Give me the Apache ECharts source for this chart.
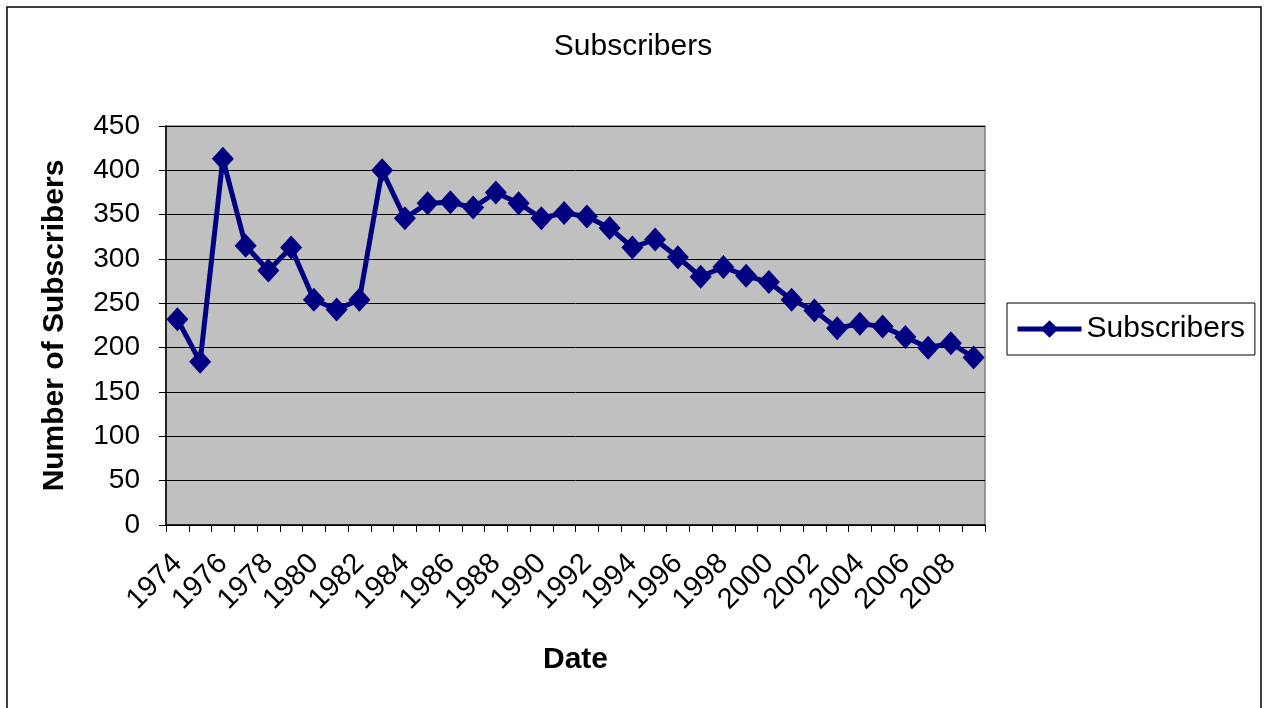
<!DOCTYPE html>
<html>
<head>
<meta charset="utf-8">
<script src="https://cdn.jsdelivr.net/npm/echarts@6/dist/echarts.min.js"></script>
<style>
html,body{margin:0;padding:0;background:#fff;}
#main{width:1266px;height:708px;}
</style>
</head>
<body>
<div id="main"></div>
<script>
var years = ['1974','1975','1976','1977','1978','1979','1980','1981','1982','1983','1984','1985','1986','1987','1988','1989','1990','1991','1992','1993','1994','1995','1996','1997','1998','1999','2000','2001','2002','2003','2004','2005','2006','2007','2008','2009'];
var subscribers = [232,184,413,315,287,313,254,243,254,400,346,363,364,358,375,363,346,352,348,335,313,322,302,280,291,281,274,254,242,222,227,224,212,200,205,189];
var yTicks = {min:0, max:450, interval:50};

var FONT = "'Liberation Sans', Arial, sans-serif";
var chart = echarts.init(document.getElementById('main'));
chart.setOption({
  animation:false,
  backgroundColor:'#fff',
  textStyle:{fontFamily:FONT},
  title:{
    text:'Subscribers', left:'center', top:27,
    textStyle:{fontFamily:FONT, fontSize:30, fontWeight:'normal', color:'#000'}
  },
  graphic:[{
    type:'rect', shape:{x:7,y:7,width:1254,height:720},
    style:{fill:'none', stroke:'#000', lineWidth:1.5}, silent:true
  }],
  legend:{
    left:1007, top:303, orient:'vertical',
    padding:[11,10,11,8],
    borderColor:'#000', borderWidth:1,
    itemWidth:64, itemHeight:22, itemGap:4,
    lineStyle:{width:5},
    textStyle:{fontFamily:FONT, fontSize:30, color:'#000'},
    data:['Subscribers']
  },
  grid:{
    left:166, right:281, top:126, bottom:183,
    show:true, backgroundColor:'#C0C0C0', borderColor:'#808080', borderWidth:1.5
  },
  xAxis:{
    type:'category', data:years, boundaryGap:true,
    name:'Date', nameLocation:'middle', nameGap:120,
    nameTextStyle:{fontFamily:FONT, fontSize:30, fontWeight:'bold', color:'#000'},
    axisLine:{lineStyle:{color:'#000', width:1.5}},
    axisTick:{show:true, interval:0, length:7, lineStyle:{color:'#000'}},
    axisLabel:{interval:1, rotate:45, margin:34, fontSize:29, color:'#000', fontFamily:FONT},
    splitLine:{show:false}
  },
  yAxis:{
    type:'value', min:yTicks.min, max:yTicks.max, interval:yTicks.interval,
    name:'Number of Subscribers', nameLocation:'middle', nameGap:96,
    nameTextStyle:{fontFamily:FONT, fontSize:30, fontWeight:'bold', color:'#000'},
    axisLine:{show:true, lineStyle:{color:'#000', width:1.5}},
    axisTick:{show:true, length:7, lineStyle:{color:'#000'}},
    axisLabel:{fontSize:28, color:'#000', margin:26, fontFamily:FONT},
    splitLine:{show:true, lineStyle:{color:'#000', width:1}}
  },
  series:[{
    name:'Subscribers', type:'line', data:subscribers,
    symbol:'diamond', symbolSize:[22,24], showAllSymbol:true,
    lineStyle:{color:'#000080', width:5},
    itemStyle:{color:'#000080'}
  }]
});
</script>
</body>
</html>
